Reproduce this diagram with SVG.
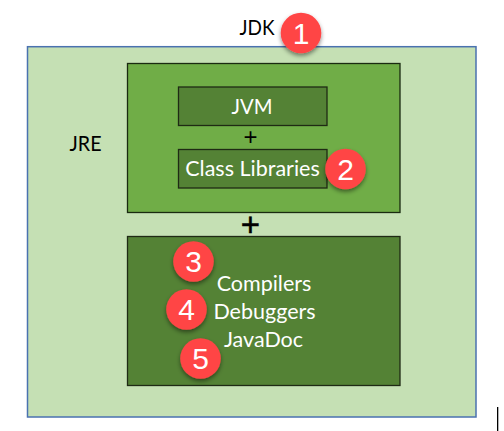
<svg xmlns="http://www.w3.org/2000/svg" width="504" height="431" viewBox="0 0 504 431">
<style>
text{font-family:Lato,"Open Sans",sans-serif;text-anchor:middle}
.w{fill:#fff;font-size:21.500px}
.k{fill:#000;font-size:21.500px}
.plus{font-family:"Liberation Sans",Arial,sans-serif;fill:#000}
.dark{fill:#548235;stroke:#1f2a14;stroke-width:1.3}
.mid{fill:#70ad47;stroke:#1a2a10;stroke-width:1.3}
.badge circle{fill:#ff4545;filter:url(#sh)}
.badge text{fill:#fff;font-family:"Liberation Sans",Arial,sans-serif;font-size:30px}
</style>
<defs><filter id="sh" x="-30%" y="-30%" width="160%" height="170%"><feDropShadow dx="0" dy="2.5" stdDeviation="2" flood-color="#000" flood-opacity="0.45"/></filter></defs>
<rect width="504" height="431" fill="#fff"/>
<g id="jdk"><rect x="27.5" y="46.7" width="448.5" height="370.3" fill="#c5e0b4" stroke="#4a72b0" stroke-width="1.5"/><text class="k" x="257" y="34.500" textLength="35" lengthAdjust="spacingAndGlyphs">JDK</text></g>
<g id="jre"><rect class="mid" x="127.5" y="63.5" width="272.5" height="149"/><text class="k" x="85.500" y="151" textLength="32" lengthAdjust="spacingAndGlyphs">JRE</text></g>
<g id="jvm"><rect class="dark" x="178.500" y="87" width="148.500" height="38.500"/><text class="w" x="252" y="114" textLength="41" lengthAdjust="spacingAndGlyphs">JVM</text></g>
<g id="plus1"><text class="plus" x="250.500" y="144.500" style="font-size:24px">+</text></g>
<g id="classlib"><rect class="dark" x="178.500" y="149.500" width="148.500" height="38.500"/><text class="w" x="252.500" y="176">Class Libraries</text></g>
<g id="plus2"><text class="plus" x="250.500" y="236" style="font-size:33px;stroke:#000;stroke-width:.5">+</text></g>
<g id="tools"><rect class="dark" x="127.5" y="236.500" width="272.500" height="149"/><text class="w" x="264" y="291">Compilers</text><text class="w" x="264.500" y="319">Debuggers</text><text class="w" x="263.500" y="347">JavaDoc</text></g>
<g id="b1" class="badge"><circle cx="301" cy="33" r="20.300"/><text x="301" y="43.500">1</text></g>
<g id="b2" class="badge"><circle cx="345.500" cy="169" r="20.300"/><text x="345.500" y="179.500">2</text></g>
<g id="b3" class="badge"><circle cx="193.500" cy="261.500" r="20.300"/><text x="193.500" y="272">3</text></g>
<g id="b4" class="badge"><circle cx="186.500" cy="309.500" r="20.300"/><text x="186.500" y="320">4</text></g>
<g id="b5" class="badge"><circle cx="200.500" cy="358.500" r="20.300"/><text x="200.500" y="369">5</text></g>
<g id="connectors"/>
<rect x="497" y="407" width="1.300" height="24" fill="#000"/>
</svg>
